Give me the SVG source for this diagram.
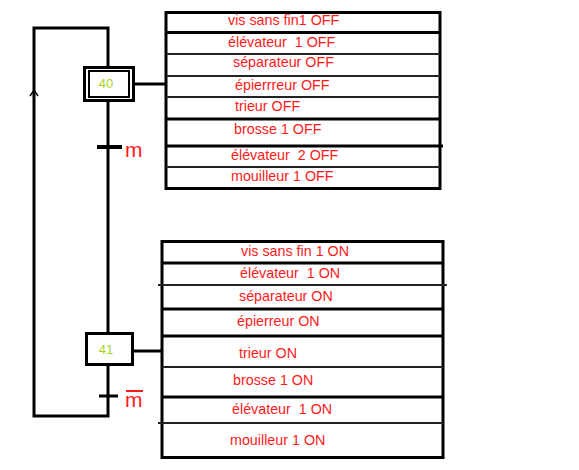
<svg xmlns="http://www.w3.org/2000/svg" width="579" height="470" viewBox="0 0 579 470">
<style>
.ln{stroke:#000;stroke-width:3;fill:none}
.tn{stroke:#222;stroke-width:2;fill:none}
.lbl{font-family:"Liberation Sans",Arial,sans-serif;font-size:14.3px;fill:#ff1a1a;white-space:pre}
.num{font-family:"Liberation Sans",Arial,sans-serif;font-size:13px;fill:#a6d424}
.var{font-family:"Liberation Sans",Arial,sans-serif;font-size:21px;fill:#ff1a1a}
</style>
<rect width="579" height="470" fill="#fff"/>
<g id="connectors">
<polyline class="ln" points="108,66 108,28 34,28 34,416 108,416 108,365"/>
<line class="ln" x1="108" y1="102" x2="108" y2="332"/>
<polyline points="30,96 34,90 38,96" fill="none" stroke="#000" stroke-width="1.5"/>
<line class="ln" x1="135" y1="84" x2="166" y2="84"/>
<line class="ln" x1="133" y1="351" x2="162" y2="351"/>
</g>
<g id="step40">
<rect x="84.5" y="67.5" width="49" height="33" fill="#fff" stroke="#000" stroke-width="3"/>
<rect x="89" y="71" width="40" height="26" fill="none" stroke="#000" stroke-width="2"/>
<text class="num" x="106" y="88" text-anchor="middle">40</text>
</g>
<g id="transition-m">
<line x1="97" y1="147" x2="122" y2="147" stroke="#000" stroke-width="4"/>
<text class="var" x="125" y="157">m</text>
</g>
<g id="step41">
<rect x="86.5" y="333.5" width="46" height="31" fill="#fff" stroke="#000" stroke-width="3"/>
<text class="num" x="106" y="354" text-anchor="middle">41</text>
</g>
<g id="transition-mbar">
<line x1="99" y1="396" x2="118" y2="396" stroke="#000" stroke-width="3"/>
<text class="var" x="125" y="407">m</text>
<line x1="126" y1="391" x2="143" y2="391" stroke="#ff1a1a" stroke-width="2"/>
</g>
<g id="actions40">
<rect x="166" y="12.5" width="274" height="176" class="ln"/>
<line class="ln" x1="166" y1="32.5" x2="440" y2="32.5"/>
<line class="tn" x1="166" y1="54" x2="440" y2="54"/>
<line class="tn" x1="166" y1="76" x2="440" y2="76"/>
<line class="tn" x1="166" y1="97" x2="440" y2="97"/>
<line class="ln" x1="166" y1="119" x2="440" y2="119"/>
<line class="ln" x1="166" y1="146" x2="443" y2="146"/>
<line class="tn" x1="166" y1="167" x2="440" y2="167"/>
<text class="lbl" x="228" y="25">vis sans fin1 OFF</text>
<text class="lbl" x="228" y="47" xml:space="preserve">élévateur  1 OFF</text>
<text class="lbl" x="233" y="67">séparateur OFF</text>
<text class="lbl" x="235" y="90">épierrreur OFF</text>
<text class="lbl" x="235" y="111">trieur OFF</text>
<text class="lbl" x="234" y="134">brosse 1 OFF</text>
<text class="lbl" x="231" y="160" xml:space="preserve">élévateur  2 OFF</text>
<text class="lbl" x="231" y="181">mouilleur 1 OFF</text>
</g>
<g id="actions41">
<rect x="162" y="241.5" width="281" height="216" class="ln"/>
<line class="ln" x1="162" y1="263" x2="443" y2="263"/>
<line class="tn" x1="158" y1="285" x2="447" y2="285"/>
<line class="ln" x1="162" y1="309" x2="443" y2="309"/>
<line class="ln" x1="162" y1="336" x2="443" y2="336"/>
<line class="tn" x1="162" y1="367" x2="443" y2="367"/>
<line class="ln" x1="162" y1="397" x2="443" y2="397"/>
<line class="tn" x1="158" y1="423" x2="443" y2="423"/>
<text class="lbl" x="241" y="256">vis sans fin 1 ON</text>
<text class="lbl" x="240" y="278" xml:space="preserve">élévateur  1 ON</text>
<text class="lbl" x="239" y="301">séparateur ON</text>
<text class="lbl" x="237" y="326">épierreur ON</text>
<text class="lbl" x="239" y="358">trieur ON</text>
<text class="lbl" x="233" y="385">brosse 1 ON</text>
<text class="lbl" x="232" y="414" xml:space="preserve">élévateur  1 ON</text>
<text class="lbl" x="230" y="445">mouilleur 1 ON</text>
</g>
</svg>
